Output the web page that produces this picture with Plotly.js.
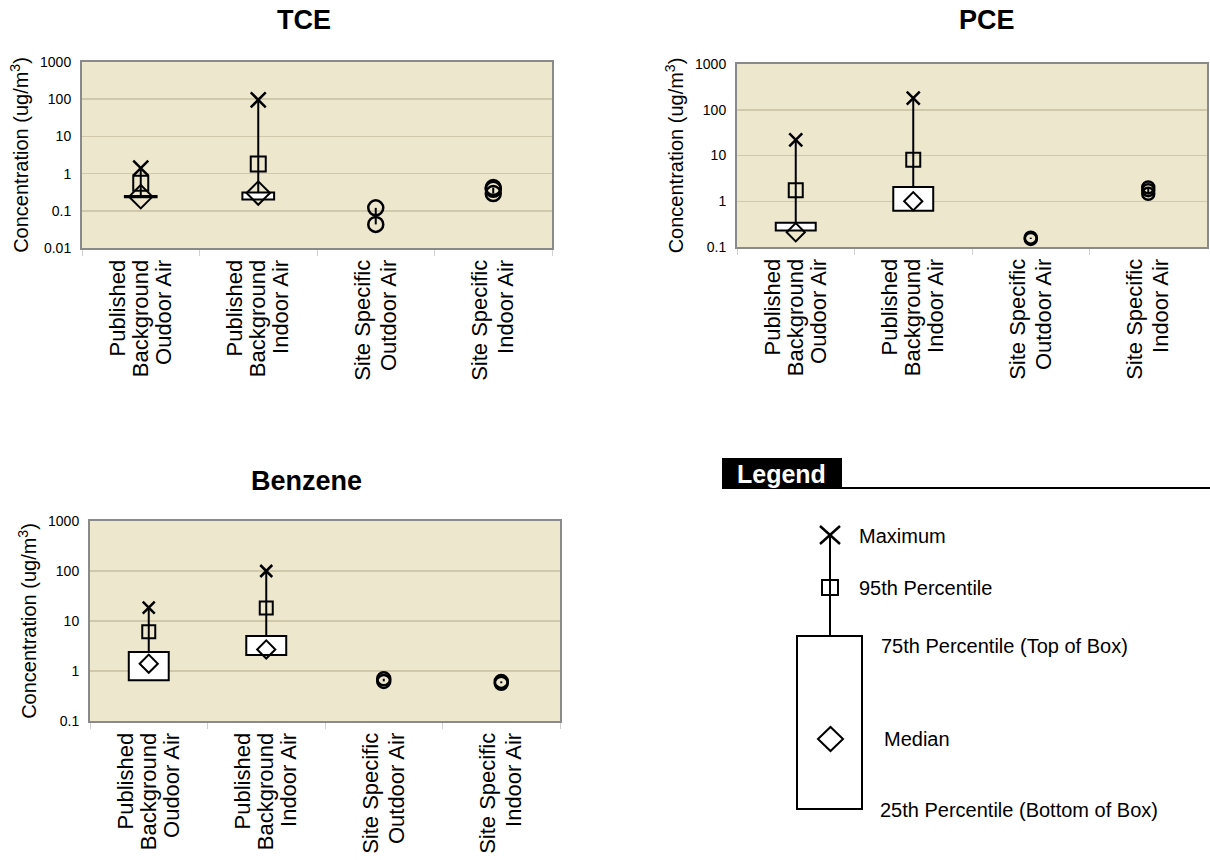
<!DOCTYPE html>
<html><head><meta charset="utf-8">
<script src="https://cdn.plot.ly/plotly-3.0.1.min.js"></script>
<style>html,body{margin:0;padding:0;background:#fff}</style>
</head><body><div id="chart" style="width:1210px;height:860px"></div>
<script>
// ---------- data ----------
const categories = [
  'Published Background Oudoor Air',
  'Published Background Indoor Air',
  'Site Specific Outdoor Air',
  'Site Specific Indoor Air'
];
// tick label lines, as printed (one list per printed line)
const pubLabelLine1 = ['Published', 'Published'];
const pubLabelLine2 = ['Background', 'Background'];
const pubLabelLine3 = ['Oudoor Air', 'Indoor Air'];
const siteLabelLine1 = ['Site Specific', 'Site Specific'];
const siteLabelLine2 = ['Outdoor Air', 'Indoor Air'];

const pubCategories = [categories[0], categories[1]];

const tceMax    = [1.4, 96];
const tceP95    = [0.55, 1.8];
const tceQ3     = [0.25, 0.31];
const tceMedian = [0.24, 0.30];
const tceQ1     = [0.23, 0.20];
const tceSiteOutdoor = [0.043, 0.12];
const tceSiteIndoor  = [0.29, 0.38, 0.42];

const pceMax    = [22, 180];
const pceP95    = [1.75, 8.1];
const pceQ3     = [0.34, 2.05];
const pceMedian = [0.21, 1.0];
const pceQ1     = [0.23, 0.62];
const pceSiteOutdoor = [0.15, 0.16];
const pceSiteIndoor  = [1.45, 1.75, 2.0];

const benMax    = [18.5, 100];
const benP95    = [6.1, 18.2];
const benQ3     = [2.4, 5.0];
const benMedian = [1.4, 2.7];
const benQ1     = [0.65, 2.1];
const benSiteOutdoor = [0.62, 0.70];
const benSiteIndoor  = [0.57, 0.62];

const yTickVals = [0.01, 0.1, 1, 10, 100, 1000];
const yTickText = ['0.01', '0.1', '1', '10', '100', '1000'];

const legendLabels = ['Maximum', '95th Percentile', '75th Percentile (Top of Box)', 'Median', '25th Percentile (Bottom of Box)'];

// ---------- helpers ----------
const FONT = '"Liberation Sans", Arial, sans-serif';
const W = 1210, H = 860;
const px = x => x / W;
const py = y => 1 - y / H;

function chemTraces(xa, ya, s, st) {
  const t = [];
  t.push({
    type: 'bar', x: pubCategories, base: s.q1, y: s.q3.map((v, i) => v - s.q1[i]),
    width: st.box, xaxis: xa, yaxis: ya,
    marker: {color: '#ffffff', line: {color: '#000', width: 2}},
    hoverinfo: 'skip', showlegend: false
  });
  const wx = [], wy = [];
  pubCategories.forEach((c, i) => { wx.push(c, c, null); wy.push(s.q3[i], s.max[i], null); });
  t.push({type: 'scatter', mode: 'lines', x: wx, y: wy, xaxis: xa, yaxis: ya,
    line: {color: '#000', width: 2}, hoverinfo: 'skip', showlegend: false});
  t.push({type: 'scatter', mode: 'markers', x: pubCategories, y: s.max, xaxis: xa, yaxis: ya,
    marker: {symbol: 'x-thin-open', size: st.x, color: '#000', line: {color: '#000', width: 2.5}}, showlegend: false});
  t.push({type: 'scatter', mode: 'markers', x: pubCategories, y: s.p95, xaxis: xa, yaxis: ya,
    marker: {symbol: 'square-open', size: st.sq, color: '#000', line: {color: '#000', width: 2}}, showlegend: false});
  t.push({type: 'scatter', mode: 'markers', x: pubCategories, y: s.med, xaxis: xa, yaxis: ya,
    marker: {symbol: 'diamond-open', size: st.dia, color: '#000', line: {color: '#000', width: 2}}, showlegend: false});
  [[categories[2], s.siteOut], [categories[3], s.siteIn]].forEach(([c, vals]) => {
    t.push({type: 'scatter', mode: 'lines+markers', x: vals.map(() => c), y: vals, xaxis: xa, yaxis: ya,
      line: {color: '#000', width: 2},
      marker: {symbol: 'circle-open', size: st.circ, color: '#000', line: {color: '#000', width: 2.5}}, showlegend: false});
  });
  return t;
}

const data = [].concat(
  chemTraces('x', 'y', {max: tceMax, p95: tceP95, q3: tceQ3, med: tceMedian, q1: tceQ1, siteOut: tceSiteOutdoor, siteIn: tceSiteIndoor},
    {box: 0.27, x: 15, sq: 15, dia: 18, circ: 15}),
  chemTraces('x2', 'y2', {max: pceMax, p95: pceP95, q3: pceQ3, med: pceMedian, q1: pceQ1, siteOut: pceSiteOutdoor, siteIn: pceSiteIndoor},
    {box: 0.34, x: 13, sq: 14, dia: 14, circ: 12}),
  chemTraces('x3', 'y3', {max: benMax, p95: benP95, q3: benQ3, med: benMedian, q1: benQ1, siteOut: benSiteOutdoor, siteIn: benSiteIndoor},
    {box: 0.34, x: 12, sq: 13, dia: 14, circ: 13})
);

function xAxis(domain, anchor) {
  return {
    domain: domain, anchor: anchor, type: 'category',
    categoryorder: 'array', categoryarray: categories, range: [-0.5, 3.5],
    showticklabels: false,
    showgrid: false, zeroline: false,
    showline: true, linecolor: '#8a8a8a', linewidth: 2, mirror: true,
    ticks: 'outside', tickson: 'boundaries', ticklen: 6, tickcolor: '#d0d0d0', tickwidth: 1,
    fixedrange: true
  };
}
// one overlay axis per printed line of the category labels
function labelAxis(overlay, anchor, positions, texts, shift) {
  return {
    overlaying: overlay, anchor: anchor, side: 'bottom', type: 'linear', range: [-0.5, 3.5],
    tickmode: 'array', tickvals: positions, ticktext: texts, ticklabelshift: shift,
    tickangle: -90, tickfont: {family: FONT, size: 22, color: '#000'},
    showline: false, showgrid: false, zeroline: false,
    ticks: 'outside', ticklen: 2, tickcolor: 'rgba(0,0,0,0)', fixedrange: true
  };
}
function yAxis(domain, anchor, range) {
  return {
    domain: domain, anchor: anchor, type: 'log', range: range,
    tickvals: yTickVals, ticktext: yTickText,
    tickfont: {family: FONT, size: 14, color: '#000'},
    showgrid: true, gridcolor: '#cfc8aa', gridwidth: 1.5, zeroline: false,
    showline: true, linecolor: '#8a8a8a', linewidth: 2, mirror: true,
    ticks: '', ticklabelstandoff: 6,
    title: {text: 'Concentration (ug/m<sup>3</sup>)', font: {family: FONT, size: 20, color: '#000'}, standoff: 6},
    fixedrange: true
  };
}

const shapes = [
  {type: 'rect', xref: 'paper', yref: 'paper', x0: px(722), x1: px(842), y0: py(489), y1: py(458), fillcolor: '#000', line: {width: 0}},
  {type: 'line', xref: 'paper', yref: 'paper', x0: px(842), x1: px(1210), y0: py(488), y1: py(488), line: {color: '#000', width: 2}},
  {type: 'line', xref: 'paper', yref: 'paper', x0: px(830), x1: px(830), y0: py(535), y1: py(636), line: {color: '#000', width: 2}},
  {type: 'rect', xref: 'paper', yref: 'paper', x0: px(797), x1: px(862), y0: py(809), y1: py(636), fillcolor: '#fff', line: {color: '#000', width: 2}},
  {type: 'line', xref: 'paper', yref: 'paper', x0: px(820), x1: px(840), y0: py(526), y1: py(544), line: {color: '#000', width: 2.5}},
  {type: 'line', xref: 'paper', yref: 'paper', x0: px(820), x1: px(840), y0: py(544), y1: py(526), line: {color: '#000', width: 2.5}},
  {type: 'rect', xref: 'paper', yref: 'paper', x0: px(822), x1: px(838), y0: py(595), y1: py(580), line: {color: '#000', width: 2}},
  {type: 'path', xref: 'paper', yref: 'paper',
    path: `M ${px(818)} ${py(739)} L ${px(830.5)} ${py(727)} L ${px(843)} ${py(739)} L ${px(830.5)} ${py(751)} Z`,
    line: {color: '#000', width: 2}}
];

const ann = (text, x, y, size, xanchor, color) => ({
  text: text, xref: 'paper', yref: 'paper', x: px(x), y: py(y), xanchor: xanchor, yanchor: 'middle',
  showarrow: false, font: {family: FONT, size: size, color: color || '#000'}
});

const annotations = [
  ann('<b>TCE</b>', 304, 20, 27, 'center'),
  ann('<b>PCE</b>', 987, 20, 27, 'center'),
  ann('<b>Benzene</b>', 306, 481, 27, 'center'),
  ann('<b>Legend</b>', 781, 474, 25, 'center', '#fff'),
  ann(legendLabels[0], 857, 536, 20, 'left'),
  ann(legendLabels[1], 857, 588, 20, 'left'),
  ann(legendLabels[2], 879, 646, 20, 'left'),
  ann(legendLabels[3], 882, 739, 20, 'left'),
  ann(legendLabels[4], 878, 810, 20, 'left')
];

const layout = {
  width: W, height: H, margin: {l: 0, r: 0, t: 0, b: 0},
  paper_bgcolor: '#ffffff', plot_bgcolor: '#ECE7CD',
  showlegend: false, bargap: 0,
  font: {family: FONT, color: '#000'},
  xaxis: xAxis([px(82), px(552)], 'y'),
  yaxis: yAxis([py(248), py(62)], 'x', [-2, 3]),
  xaxis2: xAxis([px(737), px(1207)], 'y2'),
  yaxis2: yAxis([py(247), py(64)], 'x2', [-1, 3]),
  xaxis3: xAxis([px(90), px(560)], 'y3'),
  yaxis3: yAxis([py(721), py(521)], 'x3', [-1, 3]),
  shapes: shapes, annotations: annotations
};

// overlay label axes (x4 ... x18): one per printed label line, each with an empty trace so it is drawn
let axN = 4;
[['x', 'y'], ['x2', 'y2'], ['x3', 'y3']].forEach(([xa, ya]) => {
  const specs = [
    [[0, 1], pubLabelLine1, -23],
    [[0, 1], pubLabelLine2, 0],
    [[0, 1], pubLabelLine3, 23],
    [[2, 3], siteLabelLine1, -13],
    [[2, 3], siteLabelLine2, 13]
  ];
  specs.forEach(([pos, txt, shift]) => {
    layout['xaxis' + axN] = labelAxis(xa, ya, pos, txt, shift);
    data.push({type: 'scatter', mode: 'markers', x: [], y: [], xaxis: 'x' + axN, yaxis: ya,
      hoverinfo: 'skip', showlegend: false});
    axN++;
  });
});

Plotly.newPlot('chart', data, layout, {displayModeBar: false, staticPlot: true});
</script></body></html>
